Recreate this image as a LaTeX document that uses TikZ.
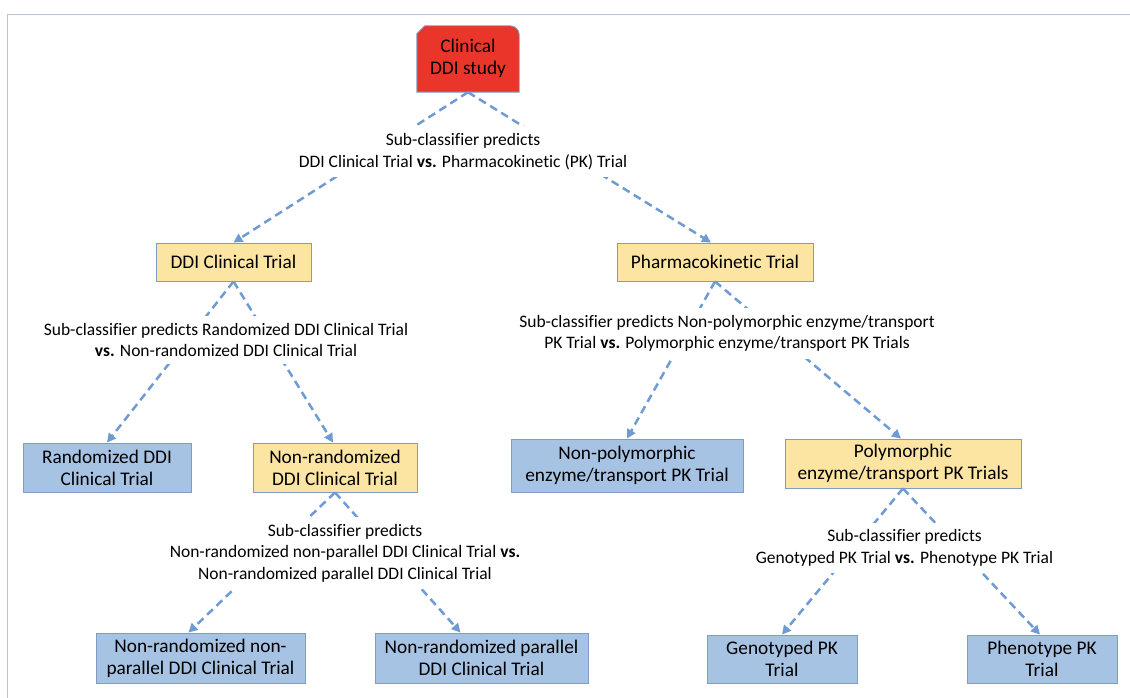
\documentclass[tikz,border=0pt]{standalone}
\usepackage{fontspec}
\setmainfont{Carlito}[Ligatures=NoCommon]
\usetikzlibrary{arrows.meta,backgrounds}

\definecolor{frameline}{HTML}{B7C5D9}
\definecolor{flowline}{HTML}{6E9BD3}
\definecolor{bluefill}{HTML}{A7C3E4}
\definecolor{goldfill}{HTML}{FCE4A2}
\definecolor{redfill}{HTML}{E9352A}
\definecolor{boxedge}{HTML}{7F9CC6}

\tikzset{
  box/.style={draw=boxedge, line width=0.9pt, align=center, inner sep=0pt,
    font=\fontsize{19.3}{22}\selectfont},
  leaf/.style={box, fill=bluefill},
  branch/.style={box, fill=goldfill},
  classifier/.style={fill=white, align=center, inner xsep=3pt, inner ysep=7pt,
    font=\fontsize{17.5}{21.5}\selectfont},
  flow/.style={draw=flowline, line width=2.5pt, dash pattern=on 8pt off 5pt,
    -{Triangle[length=9pt,width=9pt]}},
  frame/.style={draw=frameline, line width=1.6pt},
}

\begin{document}
\begin{tikzpicture}[x=1pt, y=-1pt]
\useasboundingbox (0,0) rectangle (1130,698);

% frame lines along the top and left
\coordinate (ftl) at (7.5,14.5);
\coordinate (ftr) at (1130,14.5);
\coordinate (fbl) at (7.5,698);
\draw[frame] (ftr) -- (ftl) -- (fbl);

% root
\node[inner sep=0pt, minimum width=102pt, minimum height=66pt, align=center,
  font=\fontsize{19.3}{22}\selectfont] (root) at (468,58) {Clinical\\DDI study};
\begin{scope}[on background layer]
  \filldraw[fill=redfill, draw=boxedge, line width=0.9pt]
    ([yshift=-1pt]root.south west) -- ([yshift=-9pt]root.north west) -- ([xshift=8pt,yshift=-1pt]root.north west)
    [rounded corners=9pt] -- ([yshift=-1pt]root.north east) [sharp corners] -- ([yshift=-1pt]root.south east) -- cycle;
\end{scope}

% level 1
\node[branch, minimum width=155pt, minimum height=38pt] (ddi) at (233.5,262) {DDI Clinical Trial};
\node[branch, minimum width=196pt, minimum height=38pt] (pk) at (715,262) {Pharmacokinetic Trial};

% level 2
\node[leaf, minimum width=168pt, minimum height=49pt] (rand) at (107,467.5) {Randomized DDI\\Clinical Trial};
\node[branch, minimum width=164pt, minimum height=49pt] (nonrand) at (335,467.5) {Non-randomized\\DDI Clinical Trial};
\node[leaf, minimum width=232pt, minimum height=53pt] (nonpoly) at (627,465.5) {Non-polymorphic\\enzyme/transport PK Trial};
\node[branch, minimum width=236pt, minimum height=49pt] (poly) at (903,463.5) {Polymorphic\\enzyme/transport PK Trials};

% level 3
\node[leaf, minimum width=209pt, minimum height=50pt] (nrnp) at (200.5,658) {Non-randomized non-\\parallel DDI Clinical Trial};
\node[leaf, minimum width=213pt, minimum height=50pt] (nrp) at (481.5,658) {Non-randomized parallel\\DDI Clinical Trial};
\node[leaf, minimum width=150pt, minimum height=48pt] (geno) at (782,659) {Genotyped PK\\Trial};
\node[leaf, minimum width=150pt, minimum height=48pt] (pheno) at (1042,659) {Phenotype PK\\Trial};

% connectors
\draw[flow] ([yshift=-1pt]root.south) -- (ddi.north);
\draw[flow] ([yshift=-1pt]root.south) -- ([xshift=-4pt]pk.north);
\draw[flow] (ddi.south) -- (rand.north);
\draw[flow] (ddi.south) -- ([xshift=-2pt]nonrand.north);
\draw[flow] (pk.south) -- (nonpoly.north);
\draw[flow] (pk.south) -- ([xshift=-2pt]poly.north);
\draw[flow] (nonrand.south) -- ([xshift=-12pt]nrnp.north);
\draw[flow] (nonrand.south) -- ([xshift=-21pt]nrp.north);
\draw[flow] (poly.south) -- (geno.north);
\draw[flow] (poly.south) -- ([xshift=-2pt]pheno.north);

% classifier captions laid over the connectors
\node[classifier] (c1) at (463,151.5) {Sub-classifier predicts\\DDI Clinical Trial \textbf{vs.} Pharmacokinetic (PK) Trial};
\node[classifier] (c2) at (226,340) {Sub-classifier predicts Randomized DDI Clinical Trial\\\textbf{vs.} Non-randomized DDI Clinical Trial};
\node[classifier] (c3) at (345,553) {Sub-classifier predicts\\Non-randomized non-parallel DDI Clinical Trial \textbf{vs.}\\Non-randomized parallel DDI Clinical Trial};
\node[classifier] (c4) at (727,333.5) {Sub-classifier predicts Non-polymorphic enzyme/transport\\PK Trial \textbf{vs.} Polymorphic enzyme/transport PK Trials};
\node[classifier] (c5) at (904.5,548) {Sub-classifier predicts\\Genotyped PK Trial \textbf{vs.} Phenotype PK Trial};
\end{tikzpicture}
\end{document}
